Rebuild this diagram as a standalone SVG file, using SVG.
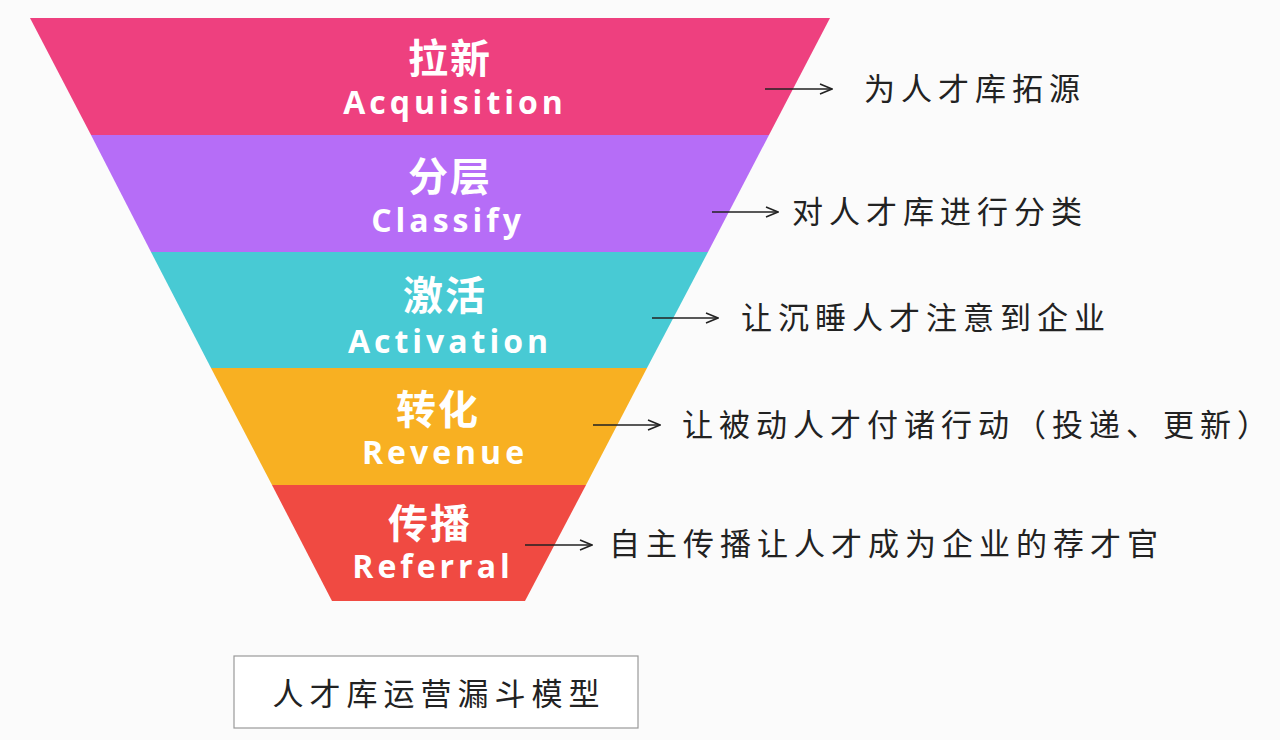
<svg xmlns="http://www.w3.org/2000/svg" width="1280" height="740" viewBox="0 0 1280 740">
<style>
.t{font-family:"Noto Sans CJK SC","Noto Sans",sans-serif;fill:#fff;font-weight:bold;text-anchor:middle}
.cn{font-size:40px;letter-spacing:2px}
.en{font-size:32px;letter-spacing:4px;font-family:"Open Sans","Noto Sans",sans-serif}
.lb{font-family:"Noto Sans CJK SC",sans-serif;font-size:31px;fill:#222;letter-spacing:6px}
.ar{stroke:#222;stroke-width:1.5;fill:none}
</style>
<defs><marker id="a" markerWidth="14" markerHeight="12" refX="13" refY="6" orient="auto" markerUnits="userSpaceOnUse"><path d="M1,1 L13,6 L1,11" fill="none" stroke="#222" stroke-width="1.5"/></marker></defs>
<rect width="1280" height="740" fill="#fbfbfb"/>
<g id="acq"><polygon points="30,18 830,18 769,135 91,135" fill="#EE407F"/><text class="t cn" x="450" y="73">拉新</text><text class="t en" x="455" y="114">Acquisition</text></g>
<g id="cls"><polygon points="91,135 769,135 708,252 151,252" fill="#B66DF7"/><text class="t cn" x="450" y="191">分层</text><text class="t en" x="448" y="232">Classify</text></g>
<g id="act"><polygon points="151,252 708,252 647,368 211,368" fill="#48CAD4"/><text class="t cn" x="445" y="310">激活</text><text class="t en" x="450" y="353">Activation</text></g>
<g id="rev"><polygon points="211,368 647,368 586,485 272,485" fill="#F8B022"/><text class="t cn" x="438" y="424">转化</text><text class="t en" x="445" y="464">Revenue</text></g>
<g id="ref"><polygon points="272,485 586,485 525,601 332,601" fill="#F04A42"/><text class="t cn" x="430" y="538">传播</text><text class="t en" x="433" y="578">Referral</text></g>
<g id="connectors">
<line class="ar" x1="765" y1="89" x2="832" y2="89" marker-end="url(#a)"/>
<line class="ar" x1="712" y1="212" x2="778" y2="212" marker-end="url(#a)"/>
<line class="ar" x1="652" y1="318" x2="718" y2="318" marker-end="url(#a)"/>
<line class="ar" x1="593" y1="425" x2="660" y2="425" marker-end="url(#a)"/>
<line class="ar" x1="525" y1="545" x2="592" y2="545" marker-end="url(#a)"/>
</g>
<g id="labels">
<text class="lb" x="864" y="100">为人才库拓源</text>
<text class="lb" x="792" y="223">对人才库进行分类</text>
<text class="lb" x="741" y="329">让沉睡人才注意到企业</text>
<text class="lb" x="682" y="436">让被动人才付诸行动（投递、更新）</text>
<text class="lb" x="609" y="555">自主传播让人才成为企业的荐才官</text>
</g>
<g id="caption"><rect x="234" y="656" width="404" height="72" fill="#fff" stroke="#999" stroke-width="1.2"/><text class="lb" x="439" y="705" text-anchor="middle">人才库运营漏斗模型</text></g>
</svg>
